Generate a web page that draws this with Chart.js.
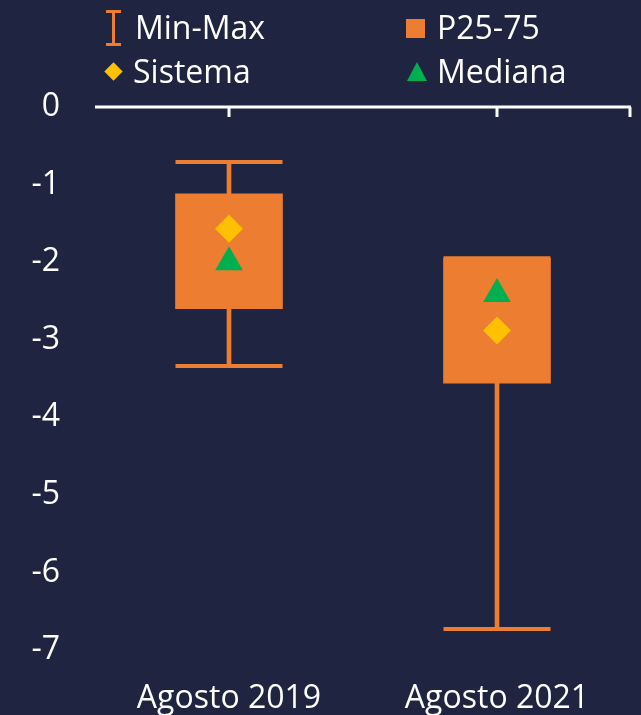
<!DOCTYPE html>
<html>
<head>
<meta charset="utf-8">
<script src="https://cdn.jsdelivr.net/npm/chart.js@4.4.0/dist/chart.umd.min.js"></script>
<style>
  html, body { margin: 0; padding: 0; background: #1f2440; }
  #wrap { position: relative; width: 641px; height: 715px; overflow: hidden; font-family: "Open Sans", sans-serif; color: #fff; }
  canvas { position: absolute; left: 0; top: 0; }
  .lg { position: absolute; font-size: 32px; line-height: 1; white-space: nowrap; }
  .ibeam { position: absolute; left: 106px; top: 10px; width: 15px; height: 30px; border-top: 3px solid #ed7d31; border-bottom: 3px solid #ed7d31; }
  .ibeam:before { content: ""; position: absolute; left: 6px; top: 0; width: 3px; height: 100%; background: #ed7d31; }
  .square { position: absolute; left: 406px; top: 19px; width: 19px; height: 19px; background: #ed7d31; }
  .diamond { position: absolute; left: 107px; top: 65px; width: 13px; height: 13px; background: #ffc000; transform: rotate(45deg); }
  .triangle { position: absolute; left: 407px; top: 62px; width: 0; height: 0; border-left: 10px solid transparent; border-right: 10px solid transparent; border-bottom: 19px solid #00b050; }
</style>
</head>
<body>
<div id="wrap">
  <canvas id="c" width="641" height="715"></canvas>
  <div class="ibeam"></div><div class="lg" style="left:135px;top:11px">Min-Max</div>
  <div class="square"></div><div class="lg" style="left:437px;top:11px">P25-75</div>
  <div class="diamond"></div><div class="lg" style="left:133px;top:55px">Sistema</div>
  <div class="triangle"></div><div class="lg" style="left:437px;top:55px">Mediana</div>
</div>
<script>
const categories = ['Agosto 2019', 'Agosto 2021'];
const minVals = [-3.34, -6.73];
const maxVals = [-0.71, -1.95];
const p25Vals = [-2.60, -3.56];
const p75Vals = [-1.12, -1.95];
const sistemaVals = [-1.57, -2.88];
const medianaVals = [-2.0, -2.41];
const yTicks = [0, -1, -2, -3, -4, -5, -6, -7];

const orange = '#ed7d31';

// axis line at zero with small ticks pointing down
const zeroAxis = {
  id: 'zeroAxis',
  afterDatasetsDraw(chart) {
    const ctx = chart.ctx, x = chart.scales.x, y = chart.scales.y;
    const yy = y.getPixelForValue(0);
    const area = chart.chartArea;
    ctx.save();
    ctx.strokeStyle = '#ffffff';
    ctx.lineWidth = 3;
    ctx.beginPath();
    ctx.moveTo(area.left, yy);
    ctx.lineTo(area.right, yy);
    const tx = categories.map((c, i) => x.getPixelForTick(i));
    tx.push(area.right - 1);
    tx.forEach(px => { ctx.moveTo(px, yy); ctx.lineTo(px, yy + 10); });
    ctx.stroke();
    ctx.restore();
  }
};

new Chart(document.getElementById('c'), {
  data: {
    labels: categories,
    datasets: [
      {
        type: 'line', label: 'Mediana', data: medianaVals, showLine: false,
        pointStyle: 'triangle', pointRadius: 16, pointBackgroundColor: '#00b050',
        pointBorderWidth: 0, order: 0
      },
      {
        type: 'line', label: 'Sistema', data: sistemaVals, showLine: false,
        pointStyle: 'rectRot', pointRadius: 14, pointBackgroundColor: '#ffc000',
        pointBorderWidth: 0, order: 1
      },
      {
        type: 'bar', label: 'P25-75', data: categories.map((c, i) => [p25Vals[i], p75Vals[i]]),
        backgroundColor: orange, barThickness: 107, grouped: false, order: 2
      },
      {
        type: 'bar', label: 'Min-Max', data: categories.map((c, i) => [minVals[i], maxVals[i]]),
        backgroundColor: orange, barThickness: 4, grouped: false, order: 3
      },
      {
        type: 'line', label: 'max', data: maxVals, showLine: false,
        pointStyle: 'line', pointRadius: 53.5, pointBorderColor: orange,
        pointBorderWidth: 4, order: 4
      },
      {
        type: 'line', label: 'min', data: minVals, showLine: false,
        pointStyle: 'line', pointRadius: 53.5, pointBorderColor: orange,
        pointBorderWidth: 4, order: 5
      }
    ]
  },
  options: {
    responsive: false,
    animation: false,
    layout: { autoPadding: false, padding: { top: 107, right: 10, left: 32, bottom: 0 } },
    plugins: { legend: { display: false }, tooltip: { enabled: false } },
    scales: {
      x: {
        type: 'category', offset: true,
        grid: { display: false, drawTicks: false }, border: { display: false },
        ticks: { color: '#ffffff', padding: 30, font: { family: 'Open Sans', size: 32 } },
        afterFit: s => { s.paddingLeft = 0; s.paddingRight = 0; s.height = 65; }
      },
      y: {
        min: -7, max: 0,
        afterBuildTicks: s => { s.ticks = yTicks.map(v => ({ value: v })); },
        afterFit: s => { s.width = 63; },
        grid: { display: false, drawTicks: false }, border: { display: false },
        ticks: { color: '#ffffff', padding: 35, font: { family: 'Open Sans', size: 32 } }
      }
    }
  },
  plugins: [zeroAxis]
});
</script>
</body>
</html>
